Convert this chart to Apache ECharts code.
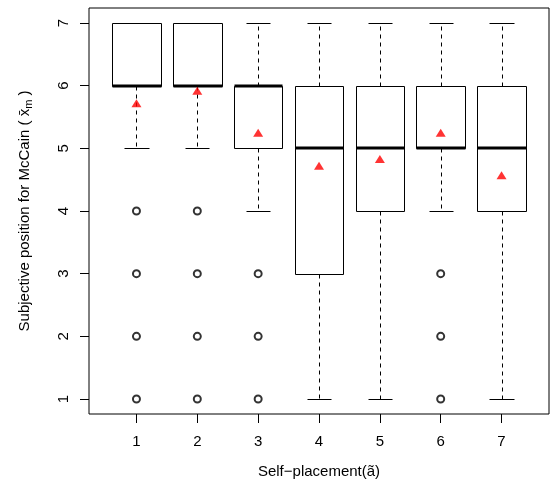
<!DOCTYPE html>
<html>
<head>
<meta charset="utf-8">
<script src="https://cdn.jsdelivr.net/npm/echarts@6/dist/echarts.min.js"></script>
<style>
  html, body { margin: 0; padding: 0; background: #fff; }
  #chart { width: 555px; height: 489px; }
</style>
</head>
<body>
<div id="chart"></div>
<script>
// Self-placement groups on the x axis
const categories = ['1', '2', '3', '4', '5', '6', '7'];
const positions = [1, 2, 3, 4, 5, 6, 7];

// Five-number summaries per group
const whiskerLow  = [5, 5, 4, 1, 1, 4, 1];
const lowerQuart  = [6, 6, 5, 3, 4, 5, 4];
const medians     = [6, 6, 6, 5, 5, 5, 5];
const upperQuart  = [7, 7, 6, 6, 6, 6, 6];
const whiskerHigh = [7, 7, 7, 7, 7, 7, 7];

// Group means (red triangles)
const means = [5.70, 5.90, 5.23, 4.70, 4.81, 5.23, 4.55];

// Outlying responses: [group, value]
const outliers = [
  [1, 4], [1, 3], [1, 2], [1, 1],
  [2, 4], [2, 3], [2, 2], [2, 1],
  [3, 3], [3, 2], [3, 1],
  [6, 3], [6, 2], [6, 1]
];

// Axis ticks
const xTicks = [1, 2, 3, 4, 5, 6, 7];
const yTicks = [1, 2, 3, 4, 5, 6, 7];

const FONT = "'Liberation Sans', Arial, Helvetica, sans-serif";
const BOX_W = 0.8;
const CAP_W = 0.4;

const boxData = positions.map((p, i) => [p, whiskerLow[i], lowerQuart[i], medians[i], upperQuart[i], whiskerHigh[i]]);
const meanData = positions.map((p, i) => [p, means[i]]);

const snap = v => Math.round(v) + 0.5;

function renderBox(params, api) {
  const x = api.value(0);
  const lo = api.value(1), q1 = api.value(2), md = api.value(3), q3 = api.value(4), hi = api.value(5);
  const cx = snap(api.coord([x, md])[0]);
  const left = snap(api.coord([x - BOX_W / 2, md])[0]);
  const right = snap(api.coord([x + BOX_W / 2, md])[0]);
  const capL = snap(api.coord([x - CAP_W / 2, md])[0]);
  const capR = snap(api.coord([x + CAP_W / 2, md])[0]);
  const yLo = snap(api.coord([x, lo])[1]);
  const yQ1 = snap(api.coord([x, q1])[1]);
  const yMd = Math.round(api.coord([x, md])[1]);
  const yQ3 = snap(api.coord([x, q3])[1]);
  const yHi = snap(api.coord([x, hi])[1]);
  const line = '#000';
  const children = [];
  if (yLo !== yQ1) {
    children.push({ type: 'line', shape: { x1: cx, y1: yQ1, x2: cx, y2: yLo },
      style: { stroke: line, lineWidth: 1, lineDash: [4, 4] } });
  }
  if (yHi !== yQ3) {
    children.push({ type: 'line', shape: { x1: cx, y1: yQ3, x2: cx, y2: yHi },
      style: { stroke: line, lineWidth: 1, lineDash: [4, 4] } });
  }
  children.push({ type: 'line', shape: { x1: capL, y1: yLo, x2: capR, y2: yLo },
    style: { stroke: line, lineWidth: 1 } });
  children.push({ type: 'line', shape: { x1: capL, y1: yHi, x2: capR, y2: yHi },
    style: { stroke: line, lineWidth: 1 } });
  children.push({ type: 'rect', shape: { x: left, y: yQ3, width: right - left, height: yQ1 - yQ3 },
    style: { fill: 'rgba(0,0,0,0)', stroke: line, lineWidth: 1 } });
  children.push({ type: 'line', shape: { x1: left, y1: yMd, x2: right, y2: yMd },
    style: { stroke: line, lineWidth: 3, lineCap: 'butt' } });
  return { type: 'group', children };
}

const chart = echarts.init(document.getElementById('chart'), null, { renderer: 'canvas' });

chart.setOption({
  backgroundColor: '#fff',
  animation: false,
  textStyle: { fontFamily: FONT },
  grid: {
    left: 89, right: 6, top: 8, bottom: 75,
    show: true, borderColor: '#000', borderWidth: 1, backgroundColor: 'transparent'
  },
  xAxis: {
    type: 'value',
    min: 0.22, max: 7.78,
    name: 'Self\u2212placement(a\u0303)',
    nameLocation: 'middle',
    nameGap: 50,
    nameTextStyle: { fontFamily: FONT, fontSize: 15, color: '#000' },
    axisLine: { show: false },
    splitLine: { show: false },
    axisTick: { show: true, inside: false, length: 9, customValues: xTicks, lineStyle: { color: '#000', width: 1 } },
    axisLabel: {
      customValues: xTicks,
      margin: 20,
      fontFamily: FONT, fontSize: 15, color: '#000',
      formatter: v => categories[Math.round(v) - 1]
    }
  },
  yAxis: {
    type: 'value',
    min: 0.76, max: 7.24,
    name: '{t|Subjective position for McCain ( }{x|x\u0304}{s|m}{t| )}',
    nameLocation: 'middle',
    nameRotate: 90,
    nameGap: 55,
    nameTextStyle: {
      fontFamily: FONT, fontSize: 15, color: '#000',
      rich: {
        t: { fontFamily: FONT, fontSize: 15, color: '#000', lineHeight: 18 },
        x: { fontFamily: FONT, fontSize: 15, color: '#000', lineHeight: 18 },
        s: { fontFamily: FONT, fontSize: 11, color: '#000', lineHeight: 18, padding: [8, 0, 0, 0] }
      }
    },
    axisLine: { show: false },
    splitLine: { show: false },
    axisTick: { show: true, inside: false, length: 9, customValues: yTicks, lineStyle: { color: '#000', width: 1 } },
    axisLabel: {
      customValues: yTicks,
      rotate: 90,
      margin: 18,
      fontFamily: FONT, fontSize: 15, color: '#000'
    }
  },
  series: [
    {
      type: 'custom',
      name: 'boxes',
      renderItem: renderBox,
      data: boxData,
      encode: { x: 0, y: [1, 2, 3, 4, 5] },
      z: 2
    },
    {
      type: 'scatter',
      name: 'outliers',
      data: outliers,
      symbol: 'emptyCircle',
      symbolSize: 7,
      itemStyle: { color: '#000', borderColor: '#000', borderWidth: 1 },
      z: 3
    },
    {
      type: 'scatter',
      name: 'means',
      data: meanData,
      symbol: 'triangle',
      symbolSize: [10, 8],
      symbolOffset: [0, -1.3],
      itemStyle: { color: '#ff0000' },
      z: 4
    }
  ]
});
</script>
</body>
</html>
